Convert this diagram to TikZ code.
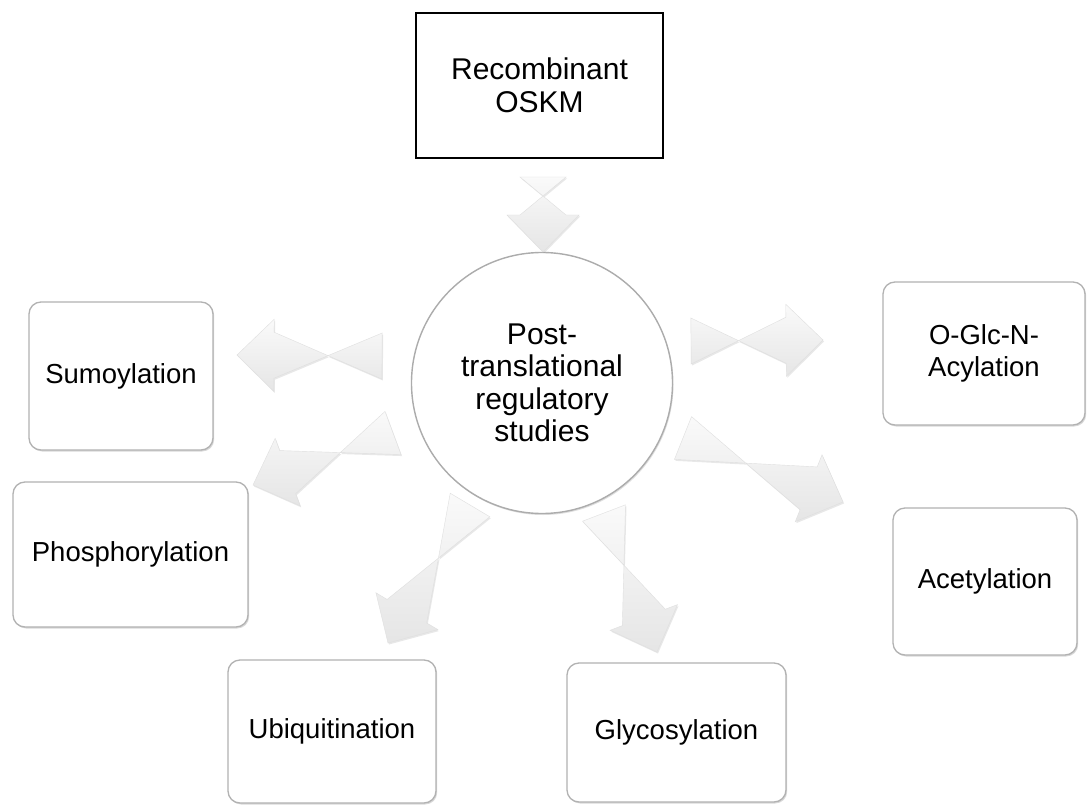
\documentclass[tikz,border=0pt]{standalone}
\usepackage{fontspec}
\setmainfont{Liberation Sans}
\usetikzlibrary{calc,shadows}
\newcommand\blockarr[3]{% #1 name, #2 tail, #3 tip
  \coordinate (#1-h) at ($(#3)!37pt!(#2)$);
  \path[barr] ($(#2)!23pt!90:(#3)$) -- ($(#1-h)!23pt!-90:(#3)$) -- ($(#1-h)!36pt!-90:(#3)$) -- (#3)
     -- ($(#1-h)!36pt!90:(#3)$) -- ($(#1-h)!23pt!90:(#3)$) -- ($(#2)!23pt!-90:(#3)$) -- cycle;}
\begin{document}
\begin{tikzpicture}[x=1pt,y=-1pt,
  pbox/.style={draw=gray!60, line width=1.3pt, rounded corners=12pt, fill=white,
    drop shadow={opacity=0.3, shadow xshift=1.2pt, shadow yshift=-1.5pt},
    inner sep=0pt, align=center, font=\fontsize{27.5}{31.5}\selectfont},
  topbox/.style={draw=black, line width=2.5pt, fill=white, inner sep=0pt, align=center,
    font=\fontsize{30}{33}\selectfont},
  hub/.style={circle, draw=gray!65, line width=1.4pt, fill=white, inner sep=0pt,
    minimum size=261pt, align=center, font=\fontsize{30}{32.5}\selectfont,
    drop shadow={opacity=0.25, shadow xshift=1pt, shadow yshift=-1.5pt}},
  barr/.style={draw=gray!25, line width=0.4pt, top color=gray!4, bottom color=gray!20,
    drop shadow={opacity=0.18, shadow xshift=1pt, shadow yshift=-1.5pt}}
]
\useasboundingbox[fill=white] (0,0) rectangle (1087,805);

% nodes
\node[topbox, minimum width=247pt, minimum height=145pt] (top) at (539.5,85.5) {Recombinant\\OSKM};
\node[hub] (hub) at (542,383) {Post-\\translational\\regulatory\\studies};
\node[pbox, minimum width=184pt, minimum height=148pt] (sumo) at (121,376) {Sumoylation};
\node[pbox, minimum width=235pt, minimum height=145pt] (phos) at (130.5,554.5) {Phosphorylation};
\node[pbox, minimum width=202pt, minimum height=143pt] (oglc) at (984,353.5) {O-Glc-N-\\Acylation};
\node[pbox, minimum width=184pt, minimum height=147pt] (acet) at (985,581.5) {Acetylation};
\node[pbox, minimum width=208pt, minimum height=143pt] (ubiq) at (332,731.5) {Ubiquitination};
\node[pbox, minimum width=219pt, minimum height=139pt] (glyc) at (676.5,732.5) {Glycosylation};

% arrow end points
\coordinate (d-t) at (543,177);  \coordinate (d-p) at (543,252);
\coordinate (s-t) at (382,356);  \coordinate (s-p) at (237,355);
\coordinate (p-t) at (393,433);  \coordinate (p-p) at (253,485);
\coordinate (o-t) at (691,341);  \coordinate (o-p) at (823,340);
\coordinate (a-t) at (683,438);  \coordinate (a-p) at (843,502);
\coordinate (u-t) at (470,505);  \coordinate (u-p) at (388,643);
\coordinate (g-t) at (604,513);  \coordinate (g-p) at (657,652);

\blockarr{ad}{d-t}{d-p}
\blockarr{as}{s-t}{s-p}
\blockarr{ap}{p-t}{p-p}
\blockarr{ao}{o-t}{o-p}
\blockarr{aa}{a-t}{a-p}
\blockarr{au}{u-t}{u-p}
\blockarr{ag}{g-t}{g-p}
\end{tikzpicture}
\end{document}
